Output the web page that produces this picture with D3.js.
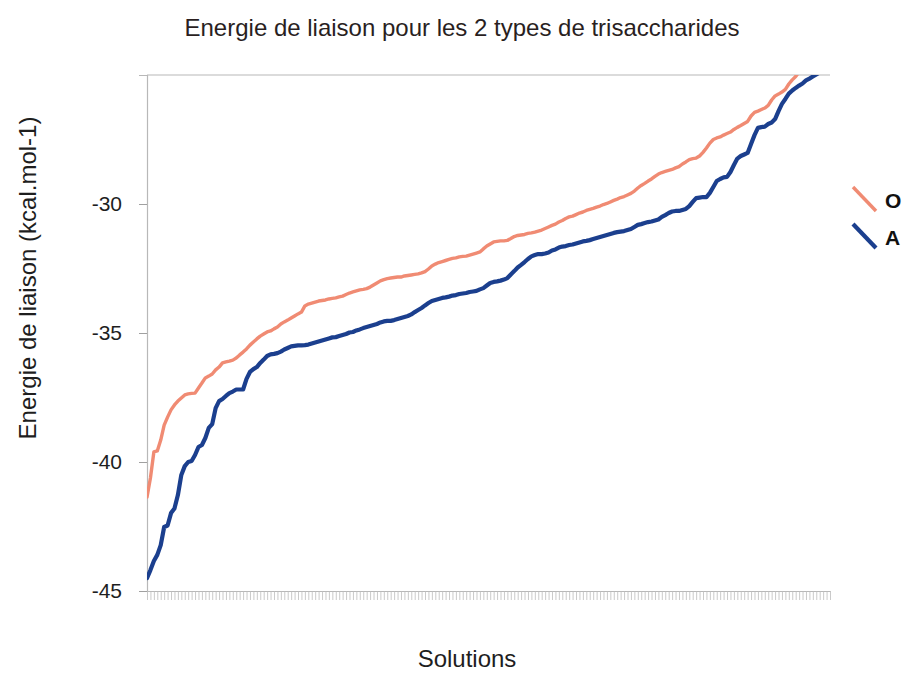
<!DOCTYPE html>
<html>
<head>
<meta charset="utf-8">
<script src="https://cdn.jsdelivr.net/npm/d3@7/dist/d3.min.js"></script>
<style>
  html, body { margin: 0; padding: 0; background: #fff; }
  svg { display: block; font-family: "Liberation Sans", Arial, sans-serif; }
</style>
</head>
<body>
<svg id="chart" width="904" height="673"></svg>
<script>
// Binding energies (kcal/mol) of the docking solutions, sorted, for each trisaccharide type
const seriesNames = ["O", "A"];
const seriesColors = ["#f08b73", "#1b3f8e"];

const energyO = [
  -41.36, -40.62, -39.61, -39.57, -39.15, -38.57, -38.26, -37.98, -37.79, -37.64,
  -37.52, -37.40, -37.36, -37.34, -37.33, -37.13, -36.94, -36.74, -36.67, -36.59,
  -36.43, -36.32, -36.16, -36.12, -36.09, -36.05, -35.97, -35.85, -35.74, -35.62,
  -35.47, -35.35, -35.23, -35.12, -35.04, -34.96, -34.92, -34.84, -34.77, -34.65,
  -34.57, -34.50, -34.42, -34.34, -34.26, -34.19, -33.95, -33.88, -33.84, -33.80,
  -33.76, -33.74, -33.72, -33.68, -33.66, -33.64, -33.60, -33.57, -33.51, -33.45,
  -33.41, -33.37, -33.33, -33.31, -33.28, -33.22, -33.14, -33.06, -32.98, -32.93,
  -32.89, -32.87, -32.85, -32.83, -32.83, -32.79, -32.77, -32.75, -32.73, -32.71,
  -32.67, -32.62, -32.52, -32.40, -32.33, -32.27, -32.23, -32.19, -32.15, -32.11,
  -32.09, -32.05, -32.03, -32.02, -31.98, -31.94, -31.90, -31.86, -31.74, -31.63,
  -31.55, -31.47, -31.45, -31.43, -31.43, -31.41, -31.34, -31.26, -31.22, -31.20,
  -31.18, -31.14, -31.12, -31.09, -31.05, -31.01, -30.95, -30.89, -30.83, -30.78,
  -30.70, -30.64, -30.56, -30.50, -30.47, -30.41, -30.35, -30.31, -30.25, -30.21,
  -30.17, -30.12, -30.08, -30.02, -29.98, -29.92, -29.86, -29.81, -29.75, -29.71,
  -29.65, -29.59, -29.50, -29.38, -29.28, -29.20, -29.11, -29.03, -28.93, -28.84,
  -28.78, -28.74, -28.70, -28.66, -28.60, -28.55, -28.45, -28.37, -28.28, -28.24,
  -28.22, -28.14, -28.00, -27.83, -27.64, -27.50, -27.44, -27.40, -27.33, -27.27,
  -27.21, -27.11, -27.03, -26.96, -26.88, -26.80, -26.59, -26.45, -26.40, -26.34,
  -26.28, -26.18, -25.97, -25.81, -25.74, -25.66, -25.56, -25.35, -25.19, -25.06,
  -24.88, -24.77, -24.61, -24.46, -24.34, -24.22, -24.11, -23.99, -23.88, -23.76
];

const energyA = [
  -44.50, -44.19, -43.84, -43.60, -43.22, -42.52, -42.46, -41.98, -41.80, -41.28,
  -40.50, -40.16, -40.00, -39.96, -39.73, -39.42, -39.34, -39.07, -38.68, -38.53,
  -37.91, -37.64, -37.56, -37.44, -37.33, -37.27, -37.19, -37.19, -37.19, -36.78,
  -36.51, -36.40, -36.32, -36.16, -36.03, -35.89, -35.83, -35.81, -35.78, -35.72,
  -35.64, -35.58, -35.52, -35.50, -35.48, -35.48, -35.47, -35.45, -35.41, -35.37,
  -35.33, -35.29, -35.25, -35.21, -35.17, -35.16, -35.12, -35.08, -35.04, -34.98,
  -34.96, -34.90, -34.86, -34.81, -34.77, -34.73, -34.69, -34.65, -34.59, -34.55,
  -34.53, -34.53, -34.50, -34.46, -34.42, -34.38, -34.34, -34.28, -34.19, -34.11,
  -34.03, -33.93, -33.84, -33.76, -33.72, -33.68, -33.64, -33.62, -33.59, -33.55,
  -33.53, -33.49, -33.47, -33.45, -33.41, -33.39, -33.37, -33.31, -33.26, -33.16,
  -33.06, -33.02, -33.00, -32.97, -32.93, -32.87, -32.73, -32.60, -32.46, -32.36,
  -32.25, -32.13, -32.03, -31.98, -31.94, -31.94, -31.92, -31.88, -31.80, -31.76,
  -31.69, -31.65, -31.63, -31.59, -31.57, -31.53, -31.49, -31.45, -31.43, -31.40,
  -31.36, -31.32, -31.28, -31.24, -31.20, -31.16, -31.12, -31.09, -31.07, -31.05,
  -31.01, -30.97, -30.89, -30.81, -30.78, -30.74, -30.70, -30.68, -30.64, -30.60,
  -30.50, -30.43, -30.35, -30.29, -30.27, -30.27, -30.23, -30.19, -30.08, -29.92,
  -29.77, -29.75, -29.73, -29.73, -29.57, -29.34, -29.11, -29.03, -28.97, -28.95,
  -28.76, -28.49, -28.24, -28.14, -28.08, -28.02, -27.67, -27.33, -27.05, -27.02,
  -27.00, -26.90, -26.84, -26.71, -26.40, -26.12, -25.93, -25.72, -25.60, -25.50,
  -25.41, -25.33, -25.21, -25.14, -25.06, -24.98, -24.90, -24.83, -24.75, -24.67
];

const yTickValues = [-45, -40, -35, -30];
const titleText = "Energie de liaison pour les 2 types de trisaccharides";
const xTitle = "Solutions";
const yTitle = "Energie de liaison (kcal.mol-1)";

const svg = d3.select("#chart");
const plot = { left: 147, right: 830, top: 75, bottom: 591 };
const solutions = d3.range(energyO.length);

const x = d3.scaleLinear().domain([0, solutions.length - 1]).range([plot.left, plot.right]);
const y = d3.scaleLinear().domain([-45, -25]).range([plot.bottom, plot.top]);

// Plot frame: top edge only, axes supply left and bottom
svg.append("line")
  .attr("x1", plot.left).attr("x2", plot.right)
  .attr("y1", plot.top).attr("y2", plot.top)
  .attr("stroke", "#b8b8b8").attr("stroke-width", 1.2);

// Y axis (plain hyphen-minus in the labels)
const yAxis = svg.append("g")
  .attr("transform", `translate(${plot.left},0)`)
  .call(d3.axisLeft(y).tickValues(yTickValues).tickSize(8).tickPadding(17).tickFormat(d => String(d)));
yAxis.select(".domain").attr("stroke", "#b8b8b8").attr("stroke-width", 1.2);
yAxis.selectAll(".tick line").attr("stroke", "#a0a0a0");
yAxis.selectAll("text")
  .attr("font-size", 21).attr("fill", "#1e1e1e")
  .attr("font-family", "'Liberation Sans', Arial, sans-serif");

// X axis: one tick per solution, no labels
const xAxis = svg.append("g")
  .attr("transform", `translate(0,${plot.bottom})`)
  .call(d3.axisBottom(x).tickValues(solutions).tickSize(9).tickSizeOuter(0).tickFormat(""));
xAxis.select(".domain").attr("stroke", "#b8b8b8").attr("stroke-width", 1.2);
xAxis.selectAll(".tick line").attr("stroke", "#bcbcbc").attr("stroke-width", 0.8);

// Clip lines to the plotting area
svg.append("clipPath").attr("id", "plot-clip")
  .append("rect")
  .attr("x", plot.left).attr("y", plot.top)
  .attr("width", plot.right - plot.left).attr("height", plot.bottom - plot.top);

const line = d3.line()
  .x((d, i) => x(i))
  .y(d => y(d));

const series = [energyO, energyA];
const widths = [3.4, 4.2];
const lines = svg.append("g").attr("clip-path", "url(#plot-clip)");
series.forEach((values, k) => {
  lines.append("path")
    .datum(values)
    .attr("fill", "none")
    .attr("stroke", seriesColors[k])
    .attr("stroke-width", widths[k])
    .attr("stroke-linejoin", "round")
    .attr("stroke-linecap", "round")
    .attr("d", line);
});

// Legend
const legend = svg.append("g");
seriesNames.forEach((name, k) => {
  const top = 187 + k * 37;
  legend.append("line")
    .attr("x1", 853).attr("y1", top)
    .attr("x2", 876).attr("y2", top + 24)
    .attr("stroke", seriesColors[k])
    .attr("stroke-width", widths[k]);
  legend.append("text")
    .attr("x", 885).attr("y", top + 21)
    .attr("font-size", 21).attr("font-weight", "bold")
    .attr("fill", "#111")
    .text(name);
});

// Titles
svg.append("text")
  .attr("x", 462).attr("y", 36)
  .attr("text-anchor", "middle")
  .attr("font-size", 24).attr("fill", "#2a1f1f")
  .text(titleText);

svg.append("text")
  .attr("x", 467).attr("y", 667)
  .attr("text-anchor", "middle")
  .attr("font-size", 24).attr("fill", "#1e1e1e")
  .text(xTitle);

svg.append("text")
  .attr("transform", "translate(36,278) rotate(-90)")
  .attr("text-anchor", "middle")
  .attr("font-size", 24).attr("fill", "#1e1e1e")
  .text(yTitle);
</script>
</body>
</html>
